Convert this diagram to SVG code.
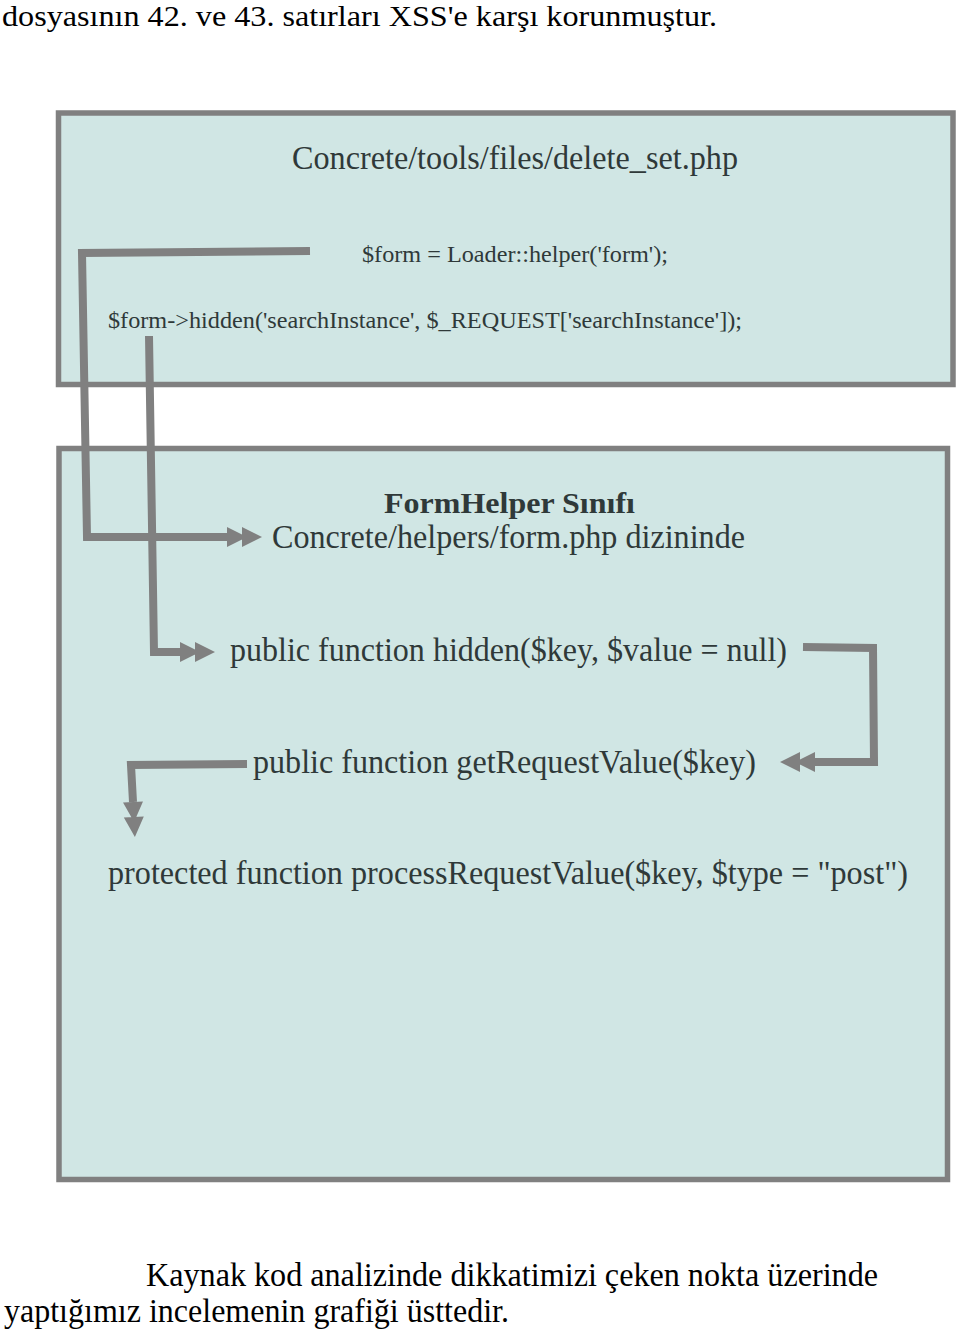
<svg xmlns="http://www.w3.org/2000/svg" width="960" height="1332" viewBox="0 0 960 1332">
  <defs>
    <style>
      .box { fill: #d0e6e4; stroke: #808080; stroke-width: 5.5; }
      .conn { fill: none; stroke: #808080; stroke-width: 8; stroke-linejoin: miter; stroke-linecap: butt; }
      .t { font-family: "Liberation Serif", "Times New Roman", serif; fill: #2f3939; }
      .outer { font-family: "Liberation Serif", "Times New Roman", serif; fill: #000; }
    </style>
    <marker id="dbl" markerUnits="userSpaceOnUse" markerWidth="36" markerHeight="20" viewBox="0 0 36 20" refX="0" refY="10" orient="auto" overflow="visible">
      <path d="M0,0 L20,10 L0,20 Z M15,0 L35,10 L15,20 Z" fill="#808080"/>
    </marker>
  </defs>
  <rect width="960" height="1332" fill="#ffffff"/>

  <text class="outer" x="2" y="26" font-size="30" textLength="715" lengthAdjust="spacingAndGlyphs">dosyasının 42. ve 43. satırları XSS'e karşı korunmuştur.</text>

  <g id="node-delete-set">
    <rect class="box" x="58.5" y="113" width="894.5" height="271.5"/>
    <text class="t" x="292" y="169" font-size="34" textLength="446" lengthAdjust="spacingAndGlyphs">Concrete/tools/files/delete_set.php</text>
    <text class="t" x="362" y="262" font-size="23" textLength="306" lengthAdjust="spacingAndGlyphs">$form = Loader::helper('form');</text>
    <text class="t" x="108" y="328" font-size="23" textLength="634" lengthAdjust="spacingAndGlyphs">$form-&gt;hidden('searchInstance', $_REQUEST['searchInstance']);</text>
  </g>

  <g id="node-formhelper">
    <rect class="box" x="59" y="448.5" width="888.5" height="731"/>
    <text class="t" x="384" y="513" font-size="30" font-weight="bold" textLength="251" lengthAdjust="spacingAndGlyphs">FormHelper Sınıfı</text>
    <text class="t" x="272" y="548" font-size="34" textLength="473" lengthAdjust="spacingAndGlyphs">Concrete/helpers/form.php dizininde</text>
    <text class="t" x="230" y="661" font-size="34" textLength="557" lengthAdjust="spacingAndGlyphs">public function hidden($key, $value = null)</text>
    <text class="t" x="253" y="773" font-size="34" textLength="503" lengthAdjust="spacingAndGlyphs">public function getRequestValue($key)</text>
    <text class="t" x="108" y="884" font-size="34" textLength="800" lengthAdjust="spacingAndGlyphs">protected function processRequestValue($key, $type = "post")</text>
  </g>

  <g id="connectors">
    <path class="conn" d="M310,251 L82,253 L87,537 L227,537" marker-end="url(#dbl)"/>
    <path class="conn" d="M149,336 L154,652 L180,652" marker-end="url(#dbl)"/>
    <path class="conn" d="M803,647 L873,648 L874,762 L815,762" marker-end="url(#dbl)"/>
    <path class="conn" d="M247,764 L131,765 L133,802" marker-end="url(#dbl)"/>
  </g>

  <text class="outer" x="146" y="1286" font-size="33" textLength="732" lengthAdjust="spacingAndGlyphs">Kaynak kod analizinde dikkatimizi çeken nokta üzerinde</text>
  <text class="outer" x="4" y="1322" font-size="33" textLength="505" lengthAdjust="spacingAndGlyphs">yaptığımız incelemenin grafiği üsttedir.</text>
</svg>
